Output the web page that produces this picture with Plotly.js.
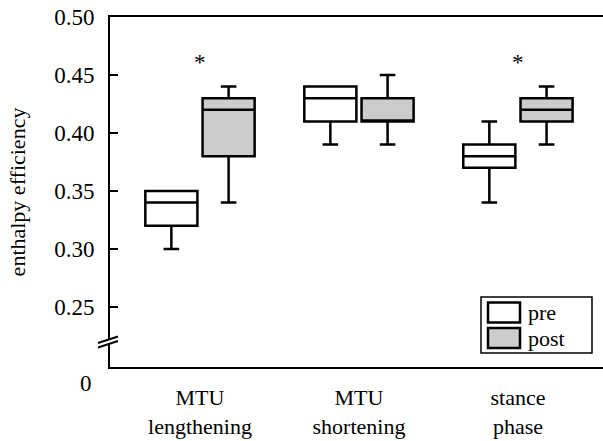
<!DOCTYPE html>
<html>
<head>
<meta charset="utf-8">
<script src="https://cdn.plot.ly/plotly-3.0.1.min.js"></script>
<style>
html,body{margin:0;padding:0;background:#fff;}
#chart{width:603px;height:441px;}
#chart svg text{font-family:'Liberation Serif','Times New Roman',serif !important;}
</style>
</head>
<body>
<div id="chart"></div>
<script>
// ---- data ----
const categories = ["MTU<br>lengthening", "MTU<br>shortening", "stance<br>phase"];
const seriesNames = ["pre", "post"];
const preLow    = [0.30, 0.39, 0.34];
const preQ1     = [0.32, 0.41, 0.37];
const preMedian = [0.34, 0.43, 0.38];
const preQ3     = [0.35, 0.44, 0.39];
const preHigh   = [0.35, 0.44, 0.41];
const postLow    = [0.34, 0.39, 0.39];
const postQ1     = [0.38, 0.41, 0.41];
const postMedian = [0.42, 0.41, 0.42];
const postQ3     = [0.43, 0.43, 0.43];
const postHigh   = [0.44, 0.45, 0.44];
const yTickVals = [0.25, 0.30, 0.35, 0.40, 0.45, 0.50];
const yTickText = ["0.25", "0.30", "0.35", "0.40", "0.45", "0.50"];
const significant = ["MTU<br>lengthening", "stance<br>phase"];

const FONT = "Liberation Serif";
const COLORS = ["#ffffff", "#cccccc"];
const W = 603, H = 441, ML = 110, MR = 0, MT = 17, MB = 74;
const PW = W - ML - MR, PH = H - MT - MB;
const px = v => (v - ML) / PW;          // pixel x -> paper
const py = v => (H - MB - v) / PH;      // pixel y -> paper

const common = {type: "box", line: {color: "#000", width: 2.5}, whiskerwidth: 0.3, boxpoints: false,
  hoverinfo: "skip", showlegend: false};
const traces = [
  Object.assign({}, common, {name: seriesNames[0], x: categories, q1: preQ1, median: preMedian, q3: preQ3,
    lowerfence: preLow, upperfence: preHigh, fillcolor: COLORS[0]}),
  Object.assign({}, common, {name: seriesNames[1], x: categories, q1: postQ1, median: postMedian, q3: postQ3,
    lowerfence: postLow, upperfence: postHigh, fillcolor: COLORS[1]})
];

const annotations = significant.map(c => ({x: c, y: 0.461, xref: "x", yref: "y", text: "*", showarrow: false,
  font: {family: FONT, size: 23, color: "#000"}}));
annotations.push({x: 0, y: 0, xref: "paper", yref: "paper", text: "0", showarrow: false,
  xanchor: "right", yanchor: "top", xshift: -16, yshift: -2, font: {family: FONT, size: 23, color: "#000"}});

const shapes = [
  // axis break
  {type: "rect", xref: "paper", yref: "paper", x0: px(105), x1: px(115), y0: py(344), y1: py(339),
    fillcolor: "#fff", line: {width: 0}, layer: "above"},
  {type: "line", xref: "paper", yref: "paper", x0: px(98), y0: py(343), x1: px(118), y1: py(336.5),
    line: {color: "#000", width: 2}, layer: "above"},
  {type: "line", xref: "paper", yref: "paper", x0: px(98), y0: py(347.5), x1: px(118), y1: py(341),
    line: {color: "#000", width: 2}, layer: "above"},
  // legend frame
  {type: "rect", xref: "paper", yref: "paper", x0: px(481), x1: px(592), y0: py(353), y1: py(297),
    fillcolor: "#fff", line: {color: "#000", width: 1.5}, layer: "above"}
];
// legend entries
const legendRows = [312.5, 338];
seriesNames.forEach((name, i) => {
  const yc = legendRows[i];
  shapes.push({type: "rect", xref: "paper", yref: "paper", x0: px(488), x1: px(520), y0: py(yc + 10), y1: py(yc - 10),
    fillcolor: COLORS[i], line: {color: "#000", width: 2.5}, layer: "above"});
  annotations.push({x: px(526), y: py(yc), xref: "paper", yref: "paper", text: name, showarrow: false,
    xanchor: "left", yanchor: "middle", font: {family: FONT, size: 22, color: "#000"}});
});

const layout = {
  width: W, height: H,
  margin: {l: ML, r: MR, t: MT, b: MB, pad: 0},
  paper_bgcolor: "#fff", plot_bgcolor: "#fff",
  font: {family: FONT, size: 22, color: "#000"},
  boxmode: "group", boxgap: 0.28, boxgroupgap: 0.09,
  showlegend: false,
  xaxis: {type: "category", range: [-0.566, 2.535], showline: true, linecolor: "#000", linewidth: 2,
    mirror: true, ticks: "", showgrid: false, zeroline: false, ticklabelstandoff: 10,
    tickfont: {family: FONT, size: 22, color: "#000"}, fixedrange: true},
  yaxis: {range: [0.50 - PH / 1160, 0.50], showline: true, linecolor: "#000", linewidth: 2,
    ticks: "inside", ticklen: 8, tickwidth: 2, tickcolor: "#000",
    tickvals: yTickVals, ticktext: yTickText, showgrid: false, zeroline: false, ticklabelstandoff: 9,
    tickfont: {family: FONT, size: 23, color: "#000"},
    title: {text: "enthalpy efficiency", font: {family: FONT, size: 22, color: "#000"}, standoff: 22}},
  annotations: annotations,
  shapes: shapes
};

Plotly.newPlot("chart", traces, layout, {staticPlot: true, displayModeBar: false});
</script>
</body>
</html>
